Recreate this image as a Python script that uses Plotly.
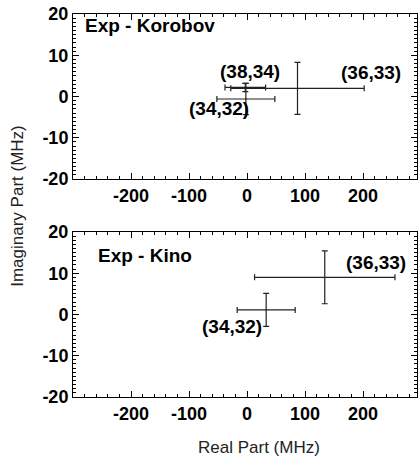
import plotly.graph_objects as go
from plotly.subplots import make_subplots

# Exp - Korobov panel
kor_labels = ['(34,32)', '(38,34)', '(36,33)']
kor_x = [-2, -3, 87]
kor_y = [-0.6, 2.2, 2.0]
kor_xerr = [50, 35, 115]
kor_yerr = [3.8, 1.0, 6.3]

# Exp - Kino panel
kino_labels = ['(34,32)', '(36,33)']
kino_x = [33, 134]
kino_y = [1.1, 9.0]
kino_xerr = [50, 121]
kino_yerr = [4.0, 6.4]

x_ticks = [-200, -100, 0, 100, 200]
y_ticks = [-20, -10, 0, 10, 20]

fig = make_subplots(rows=2, cols=1, vertical_spacing=0.138)

bar_col = '#222222'
for row, xs, ys, xe, ye in [(1, kor_x, kor_y, kor_xerr, kor_yerr),
                             (2, kino_x, kino_y, kino_xerr, kino_yerr)]:
    fig.add_trace(go.Scatter(
        x=xs, y=ys, mode='markers',
        marker=dict(size=1, color=bar_col),
        error_x=dict(type='data', array=xe, color=bar_col, thickness=1.2, width=3),
        error_y=dict(type='data', array=ye, color=bar_col, thickness=1.2, width=3),
        showlegend=False, hoverinfo='skip'
    ), row=row, col=1)

bold = dict(family='Liberation Sans', size=19, color='black')

# panel titles
fig.add_annotation(text='<b>Exp - Korobov</b>', x=-282, y=17.3, xref='x', yref='y',
                   xanchor='left', showarrow=False, font=bold)
fig.add_annotation(text='<b>Exp - Kino</b>', x=-261, y=14.3, xref='x2', yref='y2',
                   xanchor='left', showarrow=False, font=bold)

# point labels
kor_lab_pos = [(-49, -2.8), (5, 6.0), (213, 5.9)]
for lab, (lx, ly) in zip(kor_labels, kor_lab_pos):
    fig.add_annotation(text='<b>' + lab + '</b>', x=lx, y=ly, xref='x', yref='y',
                       showarrow=False, font=bold)
kino_lab_pos = [(-26, -3.0), (223, 12.5)]
for lab, (lx, ly) in zip(kino_labels, kino_lab_pos):
    fig.add_annotation(text='<b>' + lab + '</b>', x=lx, y=ly, xref='x2', yref='y2',
                       showarrow=False, font=bold)

axis_common = dict(
    showline=True, linecolor='black', linewidth=1, mirror='allticks',
    ticks='inside', ticklen=6, tickcolor='black', tickwidth=1,
    showgrid=False, zeroline=False, automargin=False,
    ticklabeloverflow='allow',
    tickfont=dict(family='Liberation Sans', size=18, color='black'),
)
fig.update_xaxes(range=[-300, 293], tickmode='array', tickvals=x_ticks,
                 ticktext=['<b>%d</b>' % v for v in x_ticks],
                 minor=dict(dtick=20, tick0=0, ticklen=3, ticks='inside',
                            tickcolor='black', tickwidth=1),
                 **axis_common)
fig.update_yaxes(range=[-20, 20], tickmode='array', tickvals=y_ticks,
                 ticktext=['<b>%d</b>' % v for v in y_ticks],
                 minor=dict(dtick=1, tick0=0, ticklen=3, ticks='inside',
                            tickcolor='black', tickwidth=1),
                 **axis_common)

# shared axis titles
fig.add_annotation(text='Imaginary Part (MHz)', x=-0.162, y=0.5, xref='paper', yref='paper',
                   xanchor='center', yanchor='middle', textangle=-90, showarrow=False,
                   font=dict(family='Liberation Sans', size=17, color='#222222'))
fig.add_annotation(text='Real Part (MHz)', x=0.54, y=-0.133, xref='paper', yref='paper',
                   xanchor='center', yanchor='middle', showarrow=False,
                   font=dict(family='Liberation Sans', size=17, color='#222222'))

fig.update_layout(
    width=419, height=457,
    margin=dict(l=73, r=2, t=14, b=60, autoexpand=False),
    plot_bgcolor='white', paper_bgcolor='white',
)
fig.update_yaxes(domain=[0.569, 1.0], row=1, col=1)
fig.update_yaxes(domain=[0.0, 0.431], row=2, col=1)

fig.write_html("out.html", config={'displayModeBar': False},
               post_script="document.body.style.margin='0';")
